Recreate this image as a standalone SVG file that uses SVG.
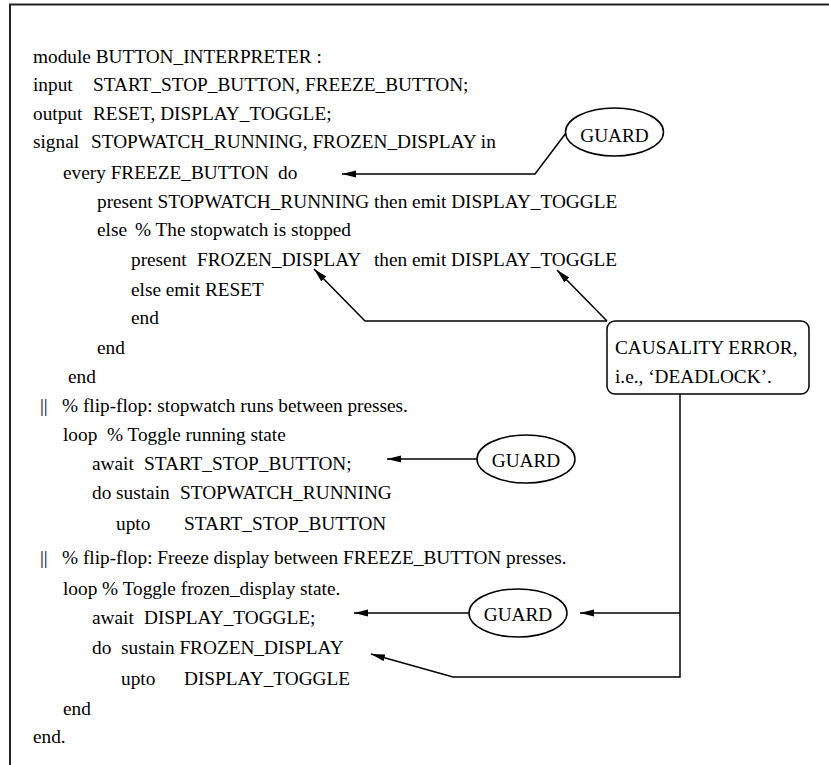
<svg xmlns="http://www.w3.org/2000/svg" width="829" height="765" viewBox="0 0 829 765">
<style>
  .t { font-family: "Liberation Serif", "Times New Roman", serif; font-size: 19.3px; fill: #000; }
  .c { text-anchor: middle; }
  .ln { fill: none; stroke: #000; stroke-width: 1.5; }
  .sh { fill: #fff; stroke: #000; stroke-width: 1.5; }
  .frame { fill: none; stroke: #222; stroke-width: 2; }
</style>
<defs>
  <marker id="ah" markerUnits="userSpaceOnUse" markerWidth="15" markerHeight="8" refX="14" refY="3.5" orient="auto">
    <path d="M0,0 L14,3.5 L0,7 z" fill="#000"/>
  </marker>
</defs>
<rect width="829" height="765" fill="#fff"/>
<path class="frame" d="M10,765 V4.5 H829"/>

<g id="code">
  <text class="t" x="33" y="63">module BUTTON_INTERPRETER :</text>
  <text class="t" y="91"><tspan x="33">input</tspan><tspan x="93">START_STOP_BUTTON, FREEZE_BUTTON;</tspan></text>
  <text class="t" y="119.5"><tspan x="33">output</tspan><tspan x="93">RESET, DISPLAY_TOGGLE;</tspan></text>
  <text class="t" y="148"><tspan x="33">signal</tspan><tspan x="91">STOPWATCH_RUNNING, FROZEN_DISPLAY in</tspan></text>
  <text class="t" y="179"><tspan x="63">every FREEZE_BUTTON</tspan><tspan x="278">do</tspan></text>
  <text class="t" x="97" y="208">present STOPWATCH_RUNNING then emit DISPLAY_TOGGLE</text>
  <text class="t" y="236"><tspan x="97">else</tspan><tspan x="135">% The stopwatch is stopped</tspan></text>
  <text class="t" y="266"><tspan x="131">present</tspan><tspan x="197">FROZEN_DISPLAY</tspan><tspan x="374">then emit DISPLAY_TOGGLE</tspan></text>
  <text class="t" x="131" y="296">else emit RESET</text>
  <text class="t" x="131" y="324">end</text>
  <text class="t" x="97" y="354">end</text>
  <text class="t" x="68" y="383">end</text>
  <text class="t" y="412"><tspan x="40">||</tspan><tspan x="62">% flip-flop: stopwatch runs between presses.</tspan></text>
  <text class="t" y="441"><tspan x="63">loop</tspan><tspan x="107">% Toggle running state</tspan></text>
  <text class="t" y="470"><tspan x="92">await</tspan><tspan x="144">START_STOP_BUTTON;</tspan></text>
  <text class="t" y="499"><tspan x="92">do sustain</tspan><tspan x="180">STOPWATCH_RUNNING</tspan></text>
  <text class="t" y="530"><tspan x="116">upto</tspan><tspan x="184">START_STOP_BUTTON</tspan></text>
  <text class="t" y="564"><tspan x="40">||</tspan><tspan x="62">% flip-flop: Freeze display between FREEZE_BUTTON presses.</tspan></text>
  <text class="t" x="63" y="595">loop % Toggle frozen_display state.</text>
  <text class="t" y="624"><tspan x="92">await</tspan><tspan x="144">DISPLAY_TOGGLE;</tspan></text>
  <text class="t" y="654"><tspan x="92">do</tspan><tspan x="121">sustain FROZEN_DISPLAY</tspan></text>
  <text class="t" y="685"><tspan x="121">upto</tspan><tspan x="184">DISPLAY_TOGGLE</tspan></text>
  <text class="t" x="63" y="715">end</text>
  <text class="t" x="33" y="743">end.</text>
</g>

<g id="connectors">
  <polyline class="ln" points="566,133 535,174 342,174" marker-end="url(#ah)"/>
  <polyline class="ln" points="607,321 365,321 314,269" marker-end="url(#ah)"/>
  <line class="ln" x1="607" y1="321" x2="557" y2="270" marker-end="url(#ah)"/>
  <line class="ln" x1="477" y1="459" x2="387" y2="459" marker-end="url(#ah)"/>
  <polyline class="ln" points="680,394 680,677 453,677 371,654" marker-end="url(#ah)"/>
  <line class="ln" x1="680" y1="613" x2="580" y2="613" marker-end="url(#ah)"/>
  <line class="ln" x1="469" y1="613" x2="354" y2="613" marker-end="url(#ah)"/>
</g>

<g id="guard1">
  <ellipse class="sh" cx="614.5" cy="132" rx="49" ry="24"/>
  <text class="t c" x="614.5" y="142">GUARD</text>
</g>
<g id="guard2">
  <ellipse class="sh" cx="526" cy="459" rx="49" ry="24"/>
  <text class="t c" x="526" y="466.5">GUARD</text>
</g>
<g id="guard3">
  <ellipse class="sh" cx="518" cy="613" rx="49" ry="24"/>
  <text class="t c" x="518" y="621">GUARD</text>
</g>
<g id="causality">
  <rect class="sh" x="607" y="321" width="202" height="73" rx="8"/>
  <text class="t" x="615" y="354">CAUSALITY ERROR,</text>
  <text class="t" x="615" y="383">i.e., ‘DEADLOCK’.</text>
</g>
</svg>
